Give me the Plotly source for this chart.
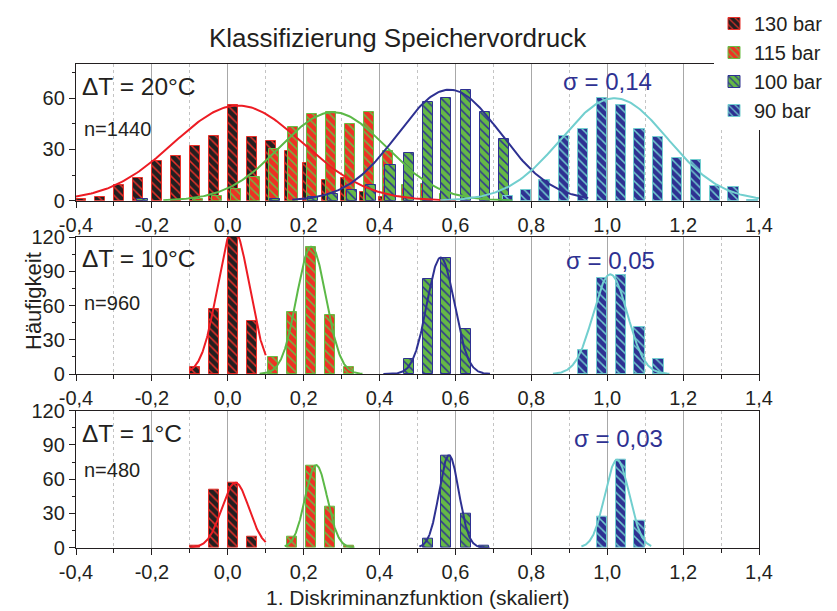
import numpy as np
import plotly.graph_objects as go
from plotly.subplots import make_subplots

# ---------------- data ----------------
series_names = ["130 bar", "115 bar", "100 bar", "90 bar"]
panel_labels = ["ΔT = 20°C", "ΔT = 10°C", "ΔT = 1°C"]
panel_counts = ["n=1440", "n=960", "n=480"]
sigma_labels = ["σ = 0,14", "σ = 0,05", "σ = 0,03"]

# Panel 1 (ΔT = 20°C): bar centres (1. Diskriminanzfunktion) and counts
p1_x_130 = [-0.387, -0.337, -0.287, -0.237, -0.187, -0.137, -0.087, -0.037, 0.013,
            0.063, 0.113, 0.163, 0.213, 0.263, 0.313, 0.363, 0.413]
p1_y_130 = [1, 2, 9, 13, 23, 26, 32, 38, 56, 37, 35, 29, 22, 12, 13, 5, 2]
p1_x_115 = [-0.078, -0.028, 0.022, 0.072, 0.122, 0.172, 0.222, 0.272, 0.322, 0.372,
            0.422, 0.472, 0.522, 0.572]
p1_y_115 = [1, 3, 7, 14, 30, 43, 51, 52, 45, 52, 29, 9, 10, 4]
p1_x_100 = [-0.225, 0.125, 0.225, 0.277, 0.327, 0.378, 0.429, 0.478, 0.527, 0.576,
            0.628, 0.678, 0.728]
p1_y_100 = [1, 1, 2, 4, 6, 9, 21, 28, 58, 60, 65, 52, 36]
p1_x_90 = [0.738, 0.786, 0.835, 0.887, 0.936, 0.986, 1.037, 1.085, 1.133, 1.184,
           1.234, 1.284, 1.333, 1.383]
p1_y_90 = [3, 6, 12, 38, 42, 60, 56, 42, 37, 25, 24, 8.5, 8, 0.5]

# Panel 2 (ΔT = 10°C)
p2_x_130 = [-0.087, -0.037, 0.013, 0.063]
p2_y_130 = [6, 57, 122, 46]
p2_x_115 = [0.119, 0.169, 0.219, 0.269, 0.319]
p2_y_115 = [15, 54, 111, 52, 6]
p2_x_100 = [0.477, 0.527, 0.576, 0.628]
p2_y_100 = [13, 83, 102, 39]
p2_x_90 = [0.936, 0.986, 1.037, 1.085, 1.135]
p2_y_90 = [21, 84, 87, 41, 13]

# Panel 3 (ΔT = 1°C)
p3_x_130 = [-0.087, -0.037, 0.013, 0.063]
p3_y_130 = [1.5, 51, 57, 9.6]
p3_x_115 = [0.169, 0.219, 0.269, 0.319]
p3_y_115 = [10, 72, 36, 1.5]
p3_x_100 = [0.527, 0.576, 0.628, 0.676]
p3_y_100 = [8, 81, 30, 1.5]
p3_x_90 = [0.986, 1.037, 1.085]
p3_y_90 = [27, 77, 24]

# Gaussian fit parameters (order: 130, 115, 100, 90 bar)
p1_fit_mu = [0.027, 0.277, 0.584, 1.019]
p1_fit_sigma = [0.17, 0.14, 0.135, 0.14]
p1_fit_amp = [55.7, 51.8, 65, 60]
p1_fit_lo = [-0.4, -0.17, 0.17, 0.56]
p1_fit_hi = [0.6, 0.75, 0.95, 1.4]

p2_fit_mu = [0.015, 0.22, 0.561, 1.008]
p2_fit_sigma = [0.042, 0.0385, 0.036, 0.045]
p2_fit_amp = [127, 111.5, 102, 87.3]
p2_fit_lo = [-0.1, 0.084, 0.41, 0.857]
p2_fit_hi = [0.1, 0.355, 0.691, 1.164]

p3_fit_mu = [0.02, 0.233, 0.583, 1.026]
p3_fit_sigma = [0.036, 0.029, 0.026, 0.032]
p3_fit_amp = [57, 72.4, 81, 77]
p3_fit_lo = [-0.1, 0.15, 0.505, 0.932]
p3_fit_hi = [0.1, 0.334, 0.69, 1.116]

x_tick_vals = [-0.4, -0.2, 0.0, 0.2, 0.4, 0.6, 0.8, 1.0, 1.2, 1.4]
x_tick_text = ["-0,4", "-0,2", "0,0", "0,2", "0,4", "0,6", "0,8", "1,0", "1,2", "1,4"]
x_minor_vals = [-0.3, -0.1, 0.1, 0.3, 0.5, 0.7, 0.9, 1.1, 1.3]
y1_tick_vals = [0, 30, 60]
y1_minor_vals = [15, 45, 75]
y23_tick_vals = [0, 30, 60, 90, 120]
y23_minor_vals = [15, 45, 75, 105]

# ---------------- styles ----------------
fill_colors = ["#231f20", "#ee3124", "#65b946", "#2e3192"]
hatch_colors = ["#e8312a", "#6abd45", "#2e3192", "#72cdd0"]
curve_colors = ["#ed1c24", "#5cb947", "#2e3192", "#72cfcf"]
FONT = "Liberation Sans, Arial, sans-serif"
TXT = "#231f20"

panels = [
    dict(bars=[(p1_x_130, p1_y_130), (p1_x_115, p1_y_115), (p1_x_100, p1_y_100), (p1_x_90, p1_y_90)],
         fit=(p1_fit_mu, p1_fit_sigma, p1_fit_amp, p1_fit_lo, p1_fit_hi)),
    dict(bars=[(p2_x_130, p2_y_130), (p2_x_115, p2_y_115), (p2_x_100, p2_y_100), (p2_x_90, p2_y_90)],
         fit=(p2_fit_mu, p2_fit_sigma, p2_fit_amp, p2_fit_lo, p2_fit_hi)),
    dict(bars=[(p3_x_130, p3_y_130), (p3_x_115, p3_y_115), (p3_x_100, p3_y_100), (p3_x_90, p3_y_90)],
         fit=(p3_fit_mu, p3_fit_sigma, p3_fit_amp, p3_fit_lo, p3_fit_hi)),
]

fig = make_subplots(rows=3, cols=1)

for r, pan in enumerate(panels, start=1):
    for s, (bx, by) in enumerate(pan["bars"]):
        fig.add_trace(go.Bar(
            x=bx, y=by, width=0.027, name=series_names[s],
            showlegend=(r == 1), legendgroup=series_names[s],
            marker=dict(color=fill_colors[s],
                        line=dict(color=hatch_colors[s], width=1),
                        pattern=dict(shape="\\", fgcolor=hatch_colors[s], bgcolor=fill_colors[s],
                                     fillmode="replace", size=6, solidity=0.25)),
        ), row=r, col=1)
    mu, sg, amp, lo, hi = pan["fit"]
    for s in range(4):
        xs = np.linspace(lo[s], hi[s], 200)
        ys = amp[s] * np.exp(-(xs - mu[s]) ** 2 / (2 * sg[s] ** 2))
        fig.add_trace(go.Scatter(x=xs, y=ys, mode="lines", showlegend=False,
                                 line=dict(color=curve_colors[s], width=2)),
                      row=r, col=1)

# ---------------- layout ----------------
# (page body adds an 8 px offset; positions below are in screenshot pixels)
H_PLOT = 484.0
def py(p):
    return (548.0 - p) / H_PLOT
def px(p):
    return (p - 76.0) / 683.0
domains = [[py(200.7), py(64)], [py(374), py(237)], [py(547.7), py(410.7)]]

axis_line = dict(showline=True, linecolor=TXT, linewidth=1.3, mirror=True, zeroline=False)
for i in range(3):
    xa = "xaxis" if i == 0 else f"xaxis{i+1}"
    ya = "yaxis" if i == 0 else f"yaxis{i+1}"
    fig.layout[xa].update(
        range=[-0.4, 1.4], domain=[0, 1], tickmode="array", tickvals=x_tick_vals, ticktext=x_tick_text,
        ticks="outside", ticklen=6, tickwidth=1, tickcolor=TXT,
        showgrid=True, gridcolor="#a8a8a8", gridwidth=1,
        minor=dict(tickmode="array", tickvals=x_minor_vals, ticks="outside", ticklen=4,
                   tickcolor=TXT, showgrid=True, gridcolor="#c4c4c4", griddash="dot", gridwidth=1),
        tickfont=dict(size=20, color=TXT, family=FONT), **axis_line)
    if i == 0:
        yr, tv, mv = [0, 80], y1_tick_vals, y1_minor_vals
    else:
        yr, tv, mv = [0, 120], y23_tick_vals, y23_minor_vals
    fig.layout[ya].update(
        range=yr, domain=domains[i], tickmode="array", tickvals=tv,
        ticks="outside", ticklen=6, tickwidth=1, tickcolor=TXT, showgrid=False,
        minor=dict(tickmode="array", tickvals=mv, ticks="outside", ticklen=3, tickcolor=TXT, showgrid=False),
        tickfont=dict(size=20, color=TXT, family=FONT), **axis_line)

annotations = []
dt_y = [66.8, 101.6, 100.4]
n_y = [41.8, 62.2, 68]
sig_xy = [(1.0, 69.9), (1.008, 99.8), (1.031, 95.8)]
for i in range(3):
    xr = "x" if i == 0 else f"x{i+1}"
    yr = "y" if i == 0 else f"y{i+1}"
    annotations.append(dict(x=-0.39, y=dt_y[i], xref=xr, yref=yr, text=panel_labels[i],
                            showarrow=False, xanchor="left", yanchor="middle",
                            font=dict(size=24.5, color=TXT, family=FONT)))
    annotations.append(dict(x=-0.385, y=n_y[i], xref=xr, yref=yr, text=panel_counts[i],
                            showarrow=False, xanchor="left", yanchor="middle",
                            font=dict(size=20, color=TXT, family=FONT)))
    annotations.append(dict(x=sig_xy[i][0], y=sig_xy[i][1], xref=xr, yref=yr, text=sigma_labels[i],
                            showarrow=False, xanchor="center", yanchor="middle",
                            font=dict(size=24, color="#2e3192", family=FONT)))

annotations.append(dict(x=px(398), y=py(38), xref="paper", yref="paper",
                        text="Klassifizierung Speichervordruck", showarrow=False,
                        xanchor="center", yanchor="middle", font=dict(size=26, color=TXT, family=FONT)))
annotations.append(dict(x=px(33), y=py(301), xref="paper", yref="paper",
                        text="Häufigkeit", showarrow=False, textangle=-90,
                        xanchor="center", yanchor="middle", font=dict(size=22, color=TXT, family=FONT)))
annotations.append(dict(x=px(417), y=py(597), xref="paper", yref="paper",
                        text="1. Diskriminanzfunktion (skaliert)", showarrow=False,
                        xanchor="center", yanchor="middle", font=dict(size=21, color=TXT, family=FONT)))

fig.update_layout(
    width=837, height=611,
    margin=dict(l=68, r=86, t=56, b=71, autoexpand=False),
    paper_bgcolor="white", plot_bgcolor="white",
    barmode="overlay", bargap=0,
    font=dict(family=FONT, color=TXT),
    annotations=annotations,
    legend=dict(x=px(714), y=py(4), xanchor="left", yanchor="top",
                xref="paper", yref="paper",
                font=dict(size=20, color=TXT, family=FONT), bgcolor="white",
                traceorder="normal"),
)

fig.write_html("out.html")
